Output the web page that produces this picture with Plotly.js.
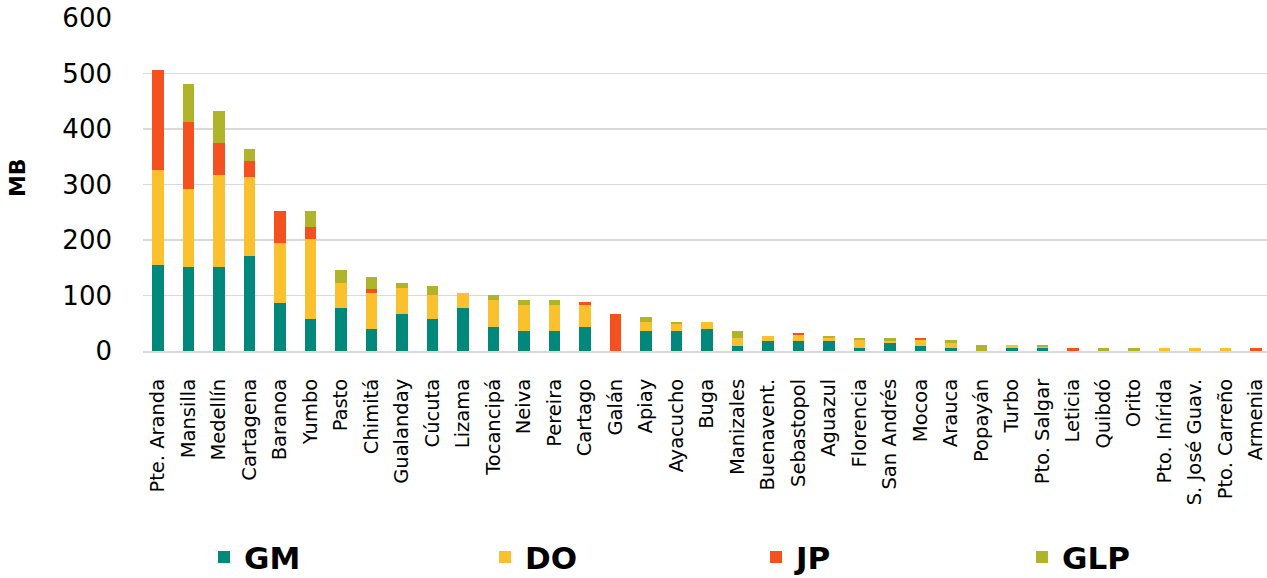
<!DOCTYPE html>
<html>
<head>
<meta charset="utf-8">
<script src="https://cdn.plot.ly/plotly-3.0.1.min.js"></script>
<style>html,body{margin:0;padding:0;background:#fff;}#chart{width:1267px;height:578px;}</style>
</head>
<body>
<div id="chart"></div>
<script>
const categories = ["Pte. Aranda","Mansilla","Medellín","Cartagena","Baranoa","Yumbo","Pasto","Chimitá","Gualanday","Cúcuta","Lizama","Tocancipá","Neiva","Pereira","Cartago","Galán","Apiay","Ayacucho","Buga","Manizales","Buenavent.","Sebastopol","Aguazul","Florencia","San Andrés","Mocoa","Arauca","Popayán","Turbo","Pto. Salgar","Leticia","Quibdó","Orito","Pto. Inírida","S. José Guav.","Pto. Carreño","Armenia"];
const GM  = [155,151,151,172,86,57,78,40,66,57,78,44,36,36,44,0,36,36,40,9,18,18,18,5,14,9,5,0,5,5,0,0,0,0,0,0,0];
const DO  = [171,141,167,141,108,145,44,64,47,44,27,48,47,47,39,0,17,13,13,15,9,10,5,14,4,10,9,0,5,3,0,0,0,6,6,6,0];
const JP  = [180,120,56,30,59,22,0,8,0,0,0,0,0,0,5,66,0,0,0,0,0,4,0,0,0,4,0,0,0,0,6,0,0,0,0,0,6];
const GLP = [0,69,59,21,0,29,24,22,9,16,0,9,9,9,0,0,9,4,0,12,0,0,4,4,5,0,5,10,0,2,0,5,5,0,0,0,0];
const yTicks = [0,100,200,300,400,500,600];

const series = [
  {name:"GM", y:GM, color:"#00897B"},
  {name:"DO", y:DO, color:"#FBC02D"},
  {name:"JP", y:JP, color:"#F4511E"},
  {name:"GLP", y:GLP, color:"#AFB42B"}
];
const legendNames = ["legend","legend2","legend3","legend4"];
const legendX = [0.0543, 0.3043, 0.5454, 0.7820];
const xs = categories.map((c,i)=>i);
const traces = series.map((s,i)=>({
  type:"bar", name:s.name, x:xs, y:s.y,
  marker:{color:s.color, line:{width:0}},
  legend:legendNames[i],
  hoverinfo:"skip"
}));

const layout = {
  width:1267, height:578,
  margin:{l:143, r:0, t:18, b:227, autoexpand:false},
  barmode:"stack", bargap:0.61,
  paper_bgcolor:"#fff", plot_bgcolor:"#fff",
  font:{family:"DejaVu Sans", color:"#000"},
  showlegend:true,
  xaxis:{
    range:[-0.49,36.36], tickvals:xs, ticktext:categories, tickangle:-90,
    tickfont:{family:"DejaVu Sans", size:19.5, color:"#000"},
    showgrid:false, zeroline:false, showline:true, linecolor:"#d9d9d9", linewidth:2,
    ticks:"", ticklabelstandoff:18, ticklabeloverflow:"allow", fixedrange:true
  },
  yaxis:{
    range:[0,600], tickvals:yTicks, ticktext:yTicks.map(String),
    tickfont:{family:"DejaVu Sans", size:26, color:"#000"},
    showgrid:true, gridcolor:"#d9d9d9", gridwidth:1.5, zeroline:false, showline:false,
    ticks:"", ticklabelstandoff:30, fixedrange:true
  },
  annotations:[{
    text:"<b>MB</b>", xref:"paper", yref:"paper", x:-0.111, y:0.52,
    xanchor:"center", yanchor:"middle", textangle:-90, showarrow:false,
    font:{family:"DejaVu Sans", size:22, color:"#000"}
  }]
};
legendNames.forEach((ln,i)=>{
  layout[ln] = {orientation:"h", x:legendX[i], xanchor:"left", y:-0.62, yanchor:"middle",
    font:{family:"DejaVu Sans", size:31, color:"#000", weight:"bold"},
    bgcolor:"rgba(0,0,0,0)", itemclick:false, itemdoubleclick:false};
});
Plotly.newPlot("chart", traces, layout, {displayModeBar:false, staticPlot:true});
</script>
</body>
</html>
